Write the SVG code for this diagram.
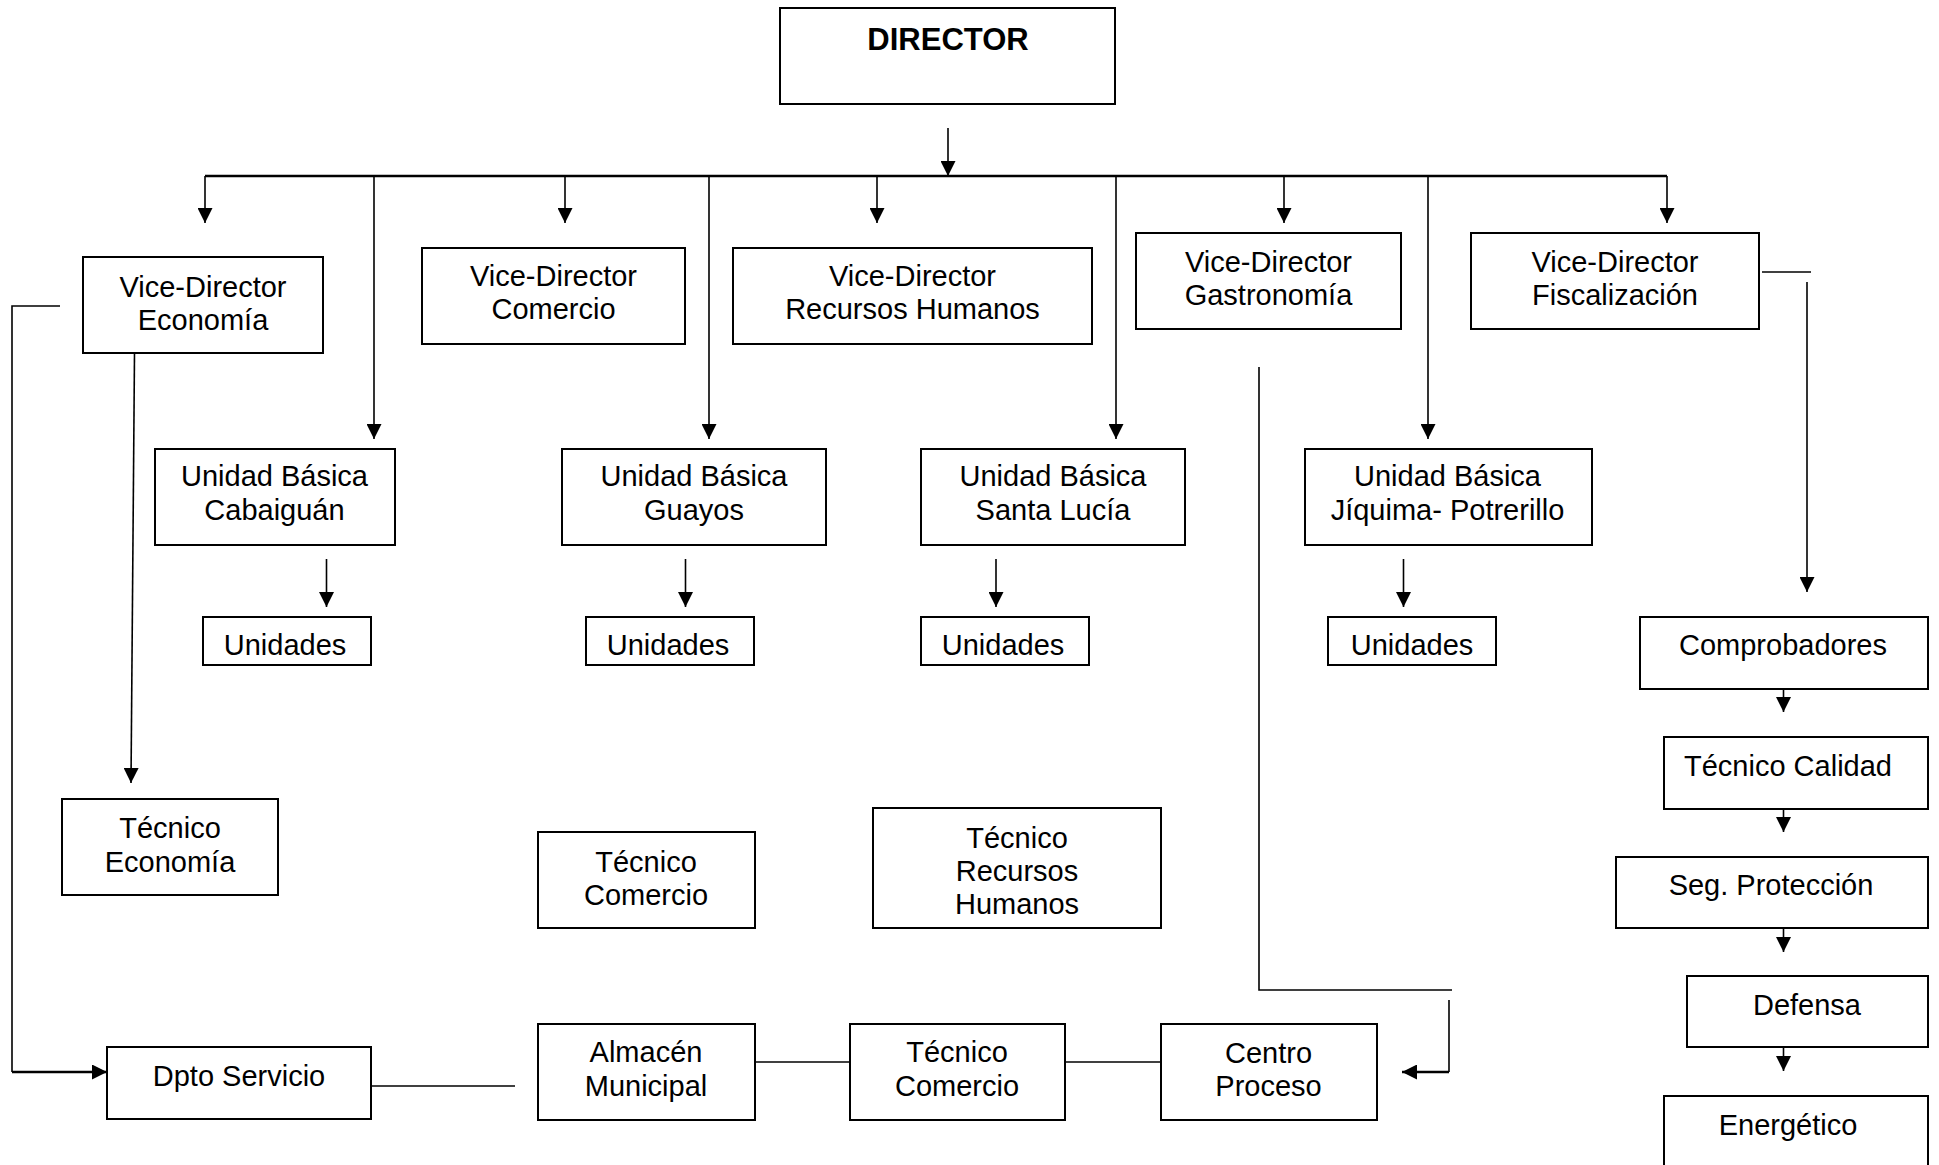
<svg xmlns="http://www.w3.org/2000/svg" width="1939" height="1165" viewBox="0 0 1939 1165">
<style>
.box{fill:#fff;stroke:#000;stroke-width:2}
.t{font-family:"Liberation Sans",Arial,sans-serif;font-size:29px;fill:#000;text-anchor:middle}
.b{font-weight:bold;font-size:31px}
.c{fill:none;stroke:#000;stroke-width:1.6}
.c2{fill:none;stroke:#000;stroke-width:2.4}
</style>
<defs>
<marker id="ah" markerUnits="userSpaceOnUse" markerWidth="15" markerHeight="15" refX="15" refY="7.5" orient="auto">
<path d="M0,0 L15,7.5 L0,15 z" fill="#000"/>
</marker>
</defs>
<rect width="1939" height="1165" fill="#fff"/>
<g id="connectors">
<line class="c" x1="948" y1="128" x2="948" y2="176" marker-end="url(#ah)"/>
<line class="c2" x1="205" y1="176" x2="1667" y2="176"/>
<line class="c" x1="205" y1="176" x2="205" y2="223" marker-end="url(#ah)"/>
<line class="c" x1="565" y1="176" x2="565" y2="223" marker-end="url(#ah)"/>
<line class="c" x1="877" y1="176" x2="877" y2="223" marker-end="url(#ah)"/>
<line class="c" x1="1284" y1="176" x2="1284" y2="223" marker-end="url(#ah)"/>
<line class="c" x1="1667" y1="176" x2="1667" y2="223" marker-end="url(#ah)"/>
<line class="c" x1="374" y1="176" x2="374" y2="439" marker-end="url(#ah)"/>
<line class="c" x1="709" y1="176" x2="709" y2="439" marker-end="url(#ah)"/>
<line class="c" x1="1116" y1="176" x2="1116" y2="439" marker-end="url(#ah)"/>
<line class="c" x1="1428" y1="176" x2="1428" y2="439" marker-end="url(#ah)"/>
<line class="c" x1="326.5" y1="559" x2="326.5" y2="607" marker-end="url(#ah)"/>
<line class="c" x1="685.5" y1="559" x2="685.5" y2="607" marker-end="url(#ah)"/>
<line class="c" x1="996" y1="559" x2="996" y2="607" marker-end="url(#ah)"/>
<line class="c" x1="1403.5" y1="559" x2="1403.5" y2="607" marker-end="url(#ah)"/>
<polyline class="c" points="60,306 12,306 12,1072"/>
<line class="c2" x1="12" y1="1072" x2="107" y2="1072" marker-end="url(#ah)"/>
<line class="c" x1="134.5" y1="353" x2="131" y2="783" marker-end="url(#ah)"/>
<line class="c" x1="1762" y1="272" x2="1811" y2="272"/>
<line class="c" x1="1807" y1="282" x2="1807" y2="592" marker-end="url(#ah)"/>
<polyline class="c" points="1259,367 1259,990 1452,990"/>
<polyline class="c" points="1449,1000 1449,1072"/>
<line class="c2" x1="1449" y1="1072" x2="1402" y2="1072" marker-end="url(#ah)"/>
<line class="c" x1="1783.5" y1="689" x2="1783.5" y2="712" marker-end="url(#ah)"/>
<line class="c" x1="1783.5" y1="809" x2="1783.5" y2="832" marker-end="url(#ah)"/>
<line class="c" x1="1783.5" y1="928" x2="1783.5" y2="952" marker-end="url(#ah)"/>
<line class="c" x1="1783.5" y1="1047" x2="1783.5" y2="1071" marker-end="url(#ah)"/>
<line class="c" x1="371" y1="1086" x2="515" y2="1086"/>
<line class="c" x1="755" y1="1062" x2="850" y2="1062"/>
<line class="c" x1="1065" y1="1062" x2="1161" y2="1062"/>
</g>
<g id="director"><rect class="box" x="780" y="8" width="335" height="96"/><text class="t b" x="948" y="50">DIRECTOR</text></g>
<g id="vd-economia"><rect class="box" x="83" y="257" width="240" height="96"/><text class="t" x="203" y="297">Vice-Director</text><text class="t" x="203" y="330">Economía</text></g>
<g id="vd-comercio"><rect class="box" x="422" y="248" width="263" height="96"/><text class="t" x="553.5" y="286">Vice-Director</text><text class="t" x="553.5" y="319">Comercio</text></g>
<g id="vd-rrhh"><rect class="box" x="733" y="248" width="359" height="96"/><text class="t" x="912.5" y="286">Vice-Director</text><text class="t" x="912.5" y="319">Recursos Humanos</text></g>
<g id="vd-gastronomia"><rect class="box" x="1136" y="233" width="265" height="96"/><text class="t" x="1268.5" y="272">Vice-Director</text><text class="t" x="1268.5" y="305">Gastronomía</text></g>
<g id="vd-fiscalizacion"><rect class="box" x="1471" y="233" width="288" height="96"/><text class="t" x="1615" y="272">Vice-Director</text><text class="t" x="1615" y="305">Fiscalización</text></g>
<g id="ub-cabaiguan"><rect class="box" x="155" y="449" width="240" height="96"/><text class="t" x="274.5" y="486">Unidad Básica</text><text class="t" x="274.5" y="520">Cabaiguán</text></g>
<g id="ub-guayos"><rect class="box" x="562" y="449" width="264" height="96"/><text class="t" x="694" y="486">Unidad Básica</text><text class="t" x="694" y="520">Guayos</text></g>
<g id="ub-santa-lucia"><rect class="box" x="921" y="449" width="264" height="96"/><text class="t" x="1053" y="486">Unidad Básica</text><text class="t" x="1053" y="520">Santa Lucía</text></g>
<g id="ub-jiquima"><rect class="box" x="1305" y="449" width="287" height="96"/><text class="t" x="1447.5" y="486">Unidad Básica</text><text class="t" x="1447.5" y="520">Jíquima- Potrerillo</text></g>
<g id="unidades-1"><rect class="box" x="203" y="617" width="168" height="48"/><text class="t" x="285" y="655">Unidades</text></g>
<g id="unidades-2"><rect class="box" x="586" y="617" width="168" height="48"/><text class="t" x="668" y="655">Unidades</text></g>
<g id="unidades-3"><rect class="box" x="921" y="617" width="168" height="48"/><text class="t" x="1003" y="655">Unidades</text></g>
<g id="unidades-4"><rect class="box" x="1328" y="617" width="168" height="48"/><text class="t" x="1412" y="655">Unidades</text></g>
<g id="comprobadores"><rect class="box" x="1640" y="617" width="288" height="72"/><text class="t" x="1783" y="655">Comprobadores</text></g>
<g id="tecnico-calidad"><rect class="box" x="1664" y="737" width="264" height="72"/><text class="t" x="1788" y="776">Técnico Calidad</text></g>
<g id="seg-proteccion"><rect class="box" x="1616" y="857" width="312" height="71"/><text class="t" x="1771" y="895">Seg. Protección</text></g>
<g id="defensa"><rect class="box" x="1687" y="976" width="241" height="71"/><text class="t" x="1807" y="1015">Defensa</text></g>
<g id="energetico"><rect class="box" x="1664" y="1096" width="264" height="80"/><text class="t" x="1788" y="1135">Energético</text></g>
<g id="tecnico-economia"><rect class="box" x="62" y="799" width="216" height="96"/><text class="t" x="170" y="838">Técnico</text><text class="t" x="170" y="872">Economía</text></g>
<g id="tecnico-comercio-1"><rect class="box" x="538" y="832" width="217" height="96"/><text class="t" x="646" y="872">Técnico</text><text class="t" x="646" y="905">Comercio</text></g>
<g id="tecnico-rrhh"><rect class="box" x="873" y="808" width="288" height="120"/><text class="t" x="1017" y="848">Técnico</text><text class="t" x="1017" y="881">Recursos</text><text class="t" x="1017" y="914">Humanos</text></g>
<g id="dpto-servicio"><rect class="box" x="107" y="1047" width="264" height="72"/><text class="t" x="239" y="1086">Dpto Servicio</text></g>
<g id="almacen-municipal"><rect class="box" x="538" y="1024" width="217" height="96"/><text class="t" x="646" y="1062">Almacén</text><text class="t" x="646" y="1096">Municipal</text></g>
<g id="tecnico-comercio-2"><rect class="box" x="850" y="1024" width="215" height="96"/><text class="t" x="957" y="1062">Técnico</text><text class="t" x="957" y="1096">Comercio</text></g>
<g id="centro-proceso"><rect class="box" x="1161" y="1024" width="216" height="96"/><text class="t" x="1268.5" y="1063">Centro</text><text class="t" x="1268.5" y="1096">Proceso</text></g>
</svg>
